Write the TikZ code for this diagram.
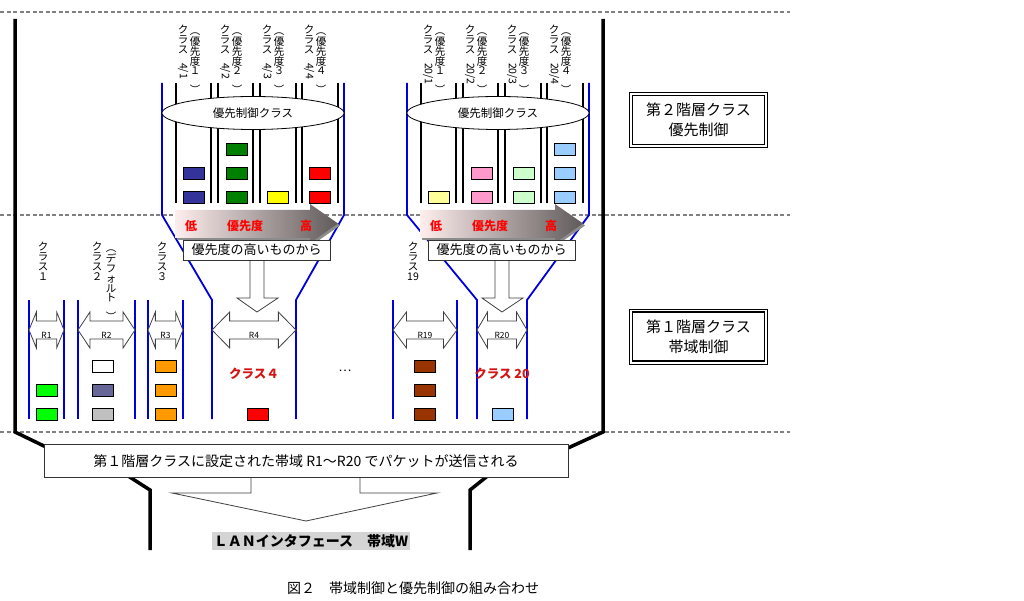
\documentclass[tikz,border=0pt]{standalone}
\usepackage{fontspec}
\setmainfont{Noto Sans CJK JP}
\usepackage{graphicx}
\usetikzlibrary{calc,shapes.geometric}

\definecolor{funnel}{RGB}{0,0,220}
\definecolor{sepgray}{RGB}{128,128,128}
\definecolor{pnavy}{RGB}{51,51,153}
\definecolor{pgreen}{RGB}{0,128,0}
\definecolor{pyellow}{RGB}{255,255,0}
\definecolor{pred}{RGB}{255,0,0}
\definecolor{plyellow}{RGB}{255,255,153}
\definecolor{ppink}{RGB}{255,153,204}
\definecolor{plgreen}{RGB}{204,255,204}
\definecolor{plblue}{RGB}{153,204,255}
\definecolor{plime}{RGB}{0,255,0}
\definecolor{pslate}{RGB}{102,102,153}
\definecolor{psilver}{RGB}{192,192,192}
\definecolor{porange}{RGB}{255,153,0}
\definecolor{pbrown}{RGB}{153,51,0}
\definecolor{labred}{RGB}{210,20,20}
\definecolor{gradL}{RGB}{255,238,238}
\definecolor{gradR}{RGB}{96,90,90}
\definecolor{lanbg}{RGB}{212,212,212}

\def\pkt(#1,#2)#3{\draw[packet,fill=#3] (#1,#2) rectangle ++(21,12);}
\def\warrow(#1:#2)#3{%
	\pgfmathsetmacro\hl{0.21*(#2-#1)}%
	\draw[hollow] (#1,330) -- ({#1+\hl},312) -- ({#1+\hl},321) -- ({#2-\hl},321) -- ({#2-\hl},312) -- (#2,330)
		-- ({#2-\hl},348) -- ({#2-\hl},339) -- ({#1+\hl},339) -- ({#1+\hl},348) -- cycle;
	\node[rlabel] at ({(#1+#2)/2},335) {#3};}

\begin{document}
\begin{tikzpicture}[x=1pt,y=-1pt,
		packet/.style={draw=black,line width=0.6pt},
		blueline/.style={draw=funnel,line width=1.8pt},
		subline/.style={draw=black,line width=1.8pt},
		frame/.style={line width=3.5pt},
		sep/.style={draw=sepgray,line width=1.2pt,dash pattern=on 4pt off 2.5pt},
		hollow/.style={draw=black!75,fill=white,line width=0.8pt},
		vlabel/.style={inner sep=0pt,align=center,anchor=north,font=\fontsize{10.5}{9.8}\selectfont},
		rlabel/.style={inner sep=0pt,font=\fontsize{8.5}{8.5}\selectfont},
		prio/.style={ellipse,draw,fill=white,line width=0.8pt,minimum width=182pt,minimum height=33pt,font=\fontsize{11.5}{12}\selectfont},
		lowhigh/.style={inner sep=0pt,text=red,font=\bfseries\fontsize{12}{12}\selectfont},
		fifo/.style={draw=black!80,fill=white,line width=0.8pt,minimum width=147pt,minimum height=20pt,inner sep=0pt,font=\fontsize{13}{13}\selectfont},
		classname/.style={inner sep=0pt,text=labred,font=\bfseries\fontsize{12.5}{13}\selectfont},
		levelbox/.style={draw,line width=1.1pt,minimum width=132pt,minimum height=49pt,align=center,font=\fontsize{15}{20}\selectfont}]
	\useasboundingbox (0,0) rectangle (1024,601);
	%%%%% START %%%%%

	\foreach \sy in {12,215,432}
		\draw[sep] (0,\sy) -- (790,\sy);

	% outer frame
	\draw[frame] (15,19) -- (15,432) -- (46,447);
	\draw[frame] (603,19) -- (603,432) -- (568,448);
	\draw[frame] (125,474) -- (150,490) -- (150,550);
	\draw[frame] (490,474) -- (470,490) -- (470,550);

	% funnels of class 4 and class 20
	\draw[blueline] (162,83) -- (162,215) -- (212,300) -- (212,419);
	\draw[blueline] (344,83) -- (344,215) -- (296,300) -- (296,419);
	\draw[blueline] (407,83) -- (407,215) -- (477,300) -- (477,419);
	\draw[blueline] (589,83) -- (589,215) -- (527,300) -- (527,419);
	\foreach \bx in {29,64,78,135,148,183,393,457}
		\draw[blueline] (\bx,300) -- (\bx,419);

	% second level classes
	\foreach \gx/\grp in {0/4,245/20}{
		\begin{scope}[xshift=\gx pt]
			\foreach \sx in {176,211,218,253,260,296,302,338}
				\draw[subline] (\sx,83) -- (\sx,203);
			\node[prio] (pc\grp) at (253,113) {優先制御クラス};
			\foreach \sub/\fw/\lx in {1/１/189,2/２/231,3/３/273,4/４/315}{
				\node[vlabel] (cl\grp\sub) at (\lx-6,25) {ク\\ラ\\ス\\\rotatebox{-90}{\grp/\sub}};
				\node[vlabel] (pl\grp\sub) at (\lx+6,25) {\rotatebox{-90}{（}\\優\\先\\度\\\fw\\\rotatebox{-90}{）}};
			}
			\fill[black!45] (177,212) -- (312,212) -- (312,206) -- (340,225.5) -- (312,245) -- (312,240) -- (177,240) -- cycle;
			\shade[left color=gradL,right color=gradR] (175,210) -- (310,210) -- (310,204) -- (338,223.5) -- (310,243) -- (310,238) -- (175,238) -- cycle;
			\node[lowhigh] (lo\grp) at (191,226) {低};
			\node[lowhigh] (pr\grp) at (245,226) {優先度};
			\node[lowhigh] (hi\grp) at (306,226) {高};
			\draw[hollow] (250,255) -- (250,298) -- (237,298) -- (257,312) -- (278,298) -- (264,298) -- (264,255) -- cycle;
			\node[fifo] (hb\grp) at (256.5,250) {優先度の高いものから};
		\end{scope}
	}

	\pkt(183,167){pnavy} \pkt(183,191){pnavy}
	\pkt(226,143){pgreen} \pkt(226,167){pgreen} \pkt(226,191){pgreen}
	\pkt(267,191){pyellow}
	\pkt(309,167){pred} \pkt(309,191){pred}

	\pkt(428,191){plyellow}
	\pkt(471,167){ppink} \pkt(471,191){ppink}
	\pkt(513,167){plgreen} \pkt(513,191){plgreen}
	\pkt(554,143){plblue} \pkt(554,167){plblue} \pkt(554,191){plblue}

	% first level classes
	\node[vlabel] (c1) at (43,242) {ク\\ラ\\ス\\１};
	\node[vlabel] (c2) at (97,242) {ク\\ラ\\ス\\２};
	\node[vlabel] (c2d) at (111,242) {\rotatebox{-90}{（}\\デ\\フ\\ォ\\ル\\ト\\\rotatebox{-90}{）}};
	\node[vlabel] (c3) at (162,242) {ク\\ラ\\ス\\３};
	\node[vlabel] (c19) at (413,242) {ク\\ラ\\ス\\19};

	\warrow(29:64){R1}
	\warrow(78:135){R2}
	\warrow(148:183){R3}
	\warrow(212:296){R4}
	\warrow(393:457){R19}
	\warrow(477:527){R20}

	\node[classname] (c4) at (254,374) {クラス４};
	\node[classname] (c20) at (502,374) {クラス 20};
	\node[inner sep=0pt,font=\fontsize{12}{12}\selectfont] (dots) at (345,371) {…};

	\pkt(36,384){plime} \pkt(36,408){plime}
	\pkt(92,360){white} \pkt(92,384){pslate} \pkt(92,408){psilver}
	\pkt(155,360){porange} \pkt(155,384){porange} \pkt(155,408){porange}
	\pkt(247,408){pred}
	\pkt(414,360){pbrown} \pkt(414,384){pbrown} \pkt(414,408){pbrown}
	\pkt(492,408){plblue}

	% output to the interface
	\draw[hollow] (251,470) -- (251,493) -- (172,493) -- (306,521) -- (437,493) -- (360,493) -- (360,470) -- cycle;
	\node[draw=black!80,fill=white,line width=0.8pt,minimum width=524pt,minimum height=33pt,font=\fontsize{14}{14}\selectfont] (out) at (306,461)
		{第１階層クラスに設定された帯域 R1～R20 でパケットが送信される};
	\node[fill=lanbg,inner sep=2pt,font=\bfseries\fontsize{14}{14}\selectfont] (lan) at (311,541) {ＬＡＮインタフェース　帯域W};

	\node[levelbox] (lv2) at (698.5,120) {第２階層クラス\\優先制御};
	\draw[line width=0.8pt] ($(lv2.south west)+(-2.5,2.5)$) rectangle ($(lv2.north east)+(2.5,-2.5)$);
	\node[levelbox] (lv1) at (698.5,336.5) {第１階層クラス\\帯域制御};
	\draw[line width=0.8pt] ($(lv1.south west)+(-2.5,2.5)$) rectangle ($(lv1.north east)+(2.5,-2.5)$);

	\node[font=\fontsize{14}{14}\selectfont] (cap) at (413,588) {図２　帯域制御と優先制御の組み合わせ};

	%%%%% END %%%%%
\end{tikzpicture}
\end{document}
